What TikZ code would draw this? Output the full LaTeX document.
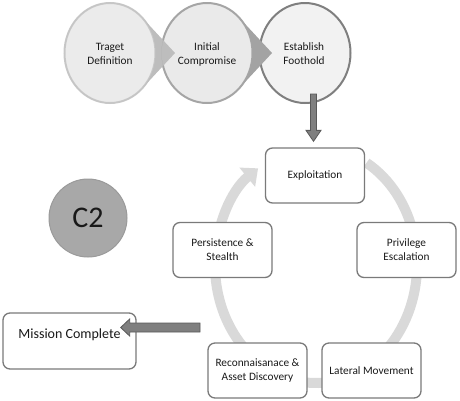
\documentclass[tikz,border=0pt]{standalone}
\usepackage{fontspec}
\setmainfont{Carlito}
\usetikzlibrary{arrows.meta,calc}
\definecolor{ringgray}{HTML}{D9D9D9}
\definecolor{boxedge}{HTML}{7A7A7A}
\definecolor{txt}{HTML}{1A1A1A}
\definecolor{cafill}{HTML}{EBEBEB}
\definecolor{caedge}{HTML}{C8C8C8}
\definecolor{cbfill}{HTML}{EAEAEA}
\definecolor{cbedge}{HTML}{A6A6A6}
\definecolor{ccfill}{HTML}{F2F2F2}
\definecolor{ccedge}{HTML}{7F7F7F}
\definecolor{tipa}{HTML}{BDBDBD}
\definecolor{tipb}{HTML}{A3A3A3}
\definecolor{cfill}{HTML}{A8A8A8}
\definecolor{cedge}{HTML}{9A9A9A}
\definecolor{arrfill}{HTML}{7F7F7F}
\definecolor{arredge}{HTML}{595959}
\newcommand\mytear{(65,0) -- (31.85,32.49) arc[start angle=45.57,end angle=314.43,radius=45.5] -- cycle (0,0) circle[radius=45.5]}
\begin{document}
\begin{tikzpicture}[x=1pt,y=1pt,
  stage/.style={draw=boxedge, line width=1.3pt, rounded corners=7pt, fill=white,
    minimum width=99pt, minimum height=55pt, align=center, inner sep=0pt,
    font=\fontsize{11.3}{14}\selectfont, text=txt},
  toptext/.style={align=center, inner sep=0pt, font=\fontsize{11.3}{14}\selectfont, text=txt},
  topcircle/.style={line width=2pt},
  blockarrow/.style={fill=arrfill, draw=arredge, line width=0.8pt, line join=miter}]
\useasboundingbox (0,0) rectangle (460,-400);
% top circles
\draw[topcircle, fill=cafill, draw=caedge] (110,-53) ellipse [x radius=45.5, y radius=50];
\draw[topcircle, fill=cbfill, draw=cbedge] (207,-53) ellipse [x radius=45.5, y radius=50];
\begin{scope}[shift={(110,-53)},yscale=1.1]
  \fill[tipa, even odd rule] \mytear;
\end{scope}
\draw[topcircle, fill=ccfill, draw=ccedge] (305,-53) ellipse [x radius=45.5, y radius=50];
\begin{scope}[shift={(207,-53)},yscale=1.1]
  \fill[tipb, even odd rule] \mytear;
\end{scope}
\node[toptext] (t1) at (110,-54) {Traget\\Definition};
\node[toptext] (t2) at (207,-54) {Initial\\Compromise};
\node[toptext] (t3) at (304,-54) {Establish\\Foothold};
% cycle ring
\draw[ringgray, line width=10pt, -{Triangle[width=24pt,length=14pt]}]
  (316,-265) ++(60:101 and 118) arc[start angle=60, end angle=-235, x radius=101, y radius=118];
% stage boxes
\node[stage] (expl) at (315,-175.5) {Exploitation};
\node[stage] (priv) at (406.5,-250) {Privilege\\Escalation};
\node[stage] (lat) at (371.5,-370.5) {Lateral Movement};
\node[stage] (recon) at (257.5,-370.5) {Reconnaisanace \&\\Asset Discovery};
\node[stage] (pers) at (222.5,-250) {Persistence \&\\Stealth};
\node[stage, minimum width=133pt, minimum height=56pt,
  label={[font=\fontsize{14}{17}\selectfont, text=txt, yshift=6pt]center:Mission Complete}] (mission) at (69.5,-341) {};
% C2
\node[circle, fill=cfill, draw=cedge, line width=1pt, minimum size=78pt, inner sep=0pt,
  font=\fontsize{30}{30}\selectfont, text=black!90] (c2) at (88,-218) {C2};
% down arrow
\coordinate (dtip) at ($(expl.north)+(-1.5,6)$);
\coordinate (dtop) at (313.5,-94);
\draw[blockarrow] ($(dtop)+(-3,0)$) -- ($(dtip)+(-3,11)$) -- ($(dtip)+(-7.5,11)$) -- (dtip)
  -- ($(dtip)+(7.5,11)$) -- ($(dtip)+(3,11)$) -- ($(dtop)+(3,0)$) -- cycle;
% mission arrow
\coordinate (mtip) at ($(mission.east)+(-16,13.5)$);
\coordinate (mstart) at (200,-327.5);
\draw[blockarrow] ($(mstart)+(0,4.5)$) -- ($(mtip)+(9,4.5)$) -- ($(mtip)+(9,8.5)$) -- (mtip)
  -- ($(mtip)+(9,-8.5)$) -- ($(mtip)+(9,-4.5)$) -- ($(mstart)+(0,-4.5)$) -- cycle;
\end{tikzpicture}
\end{document}
